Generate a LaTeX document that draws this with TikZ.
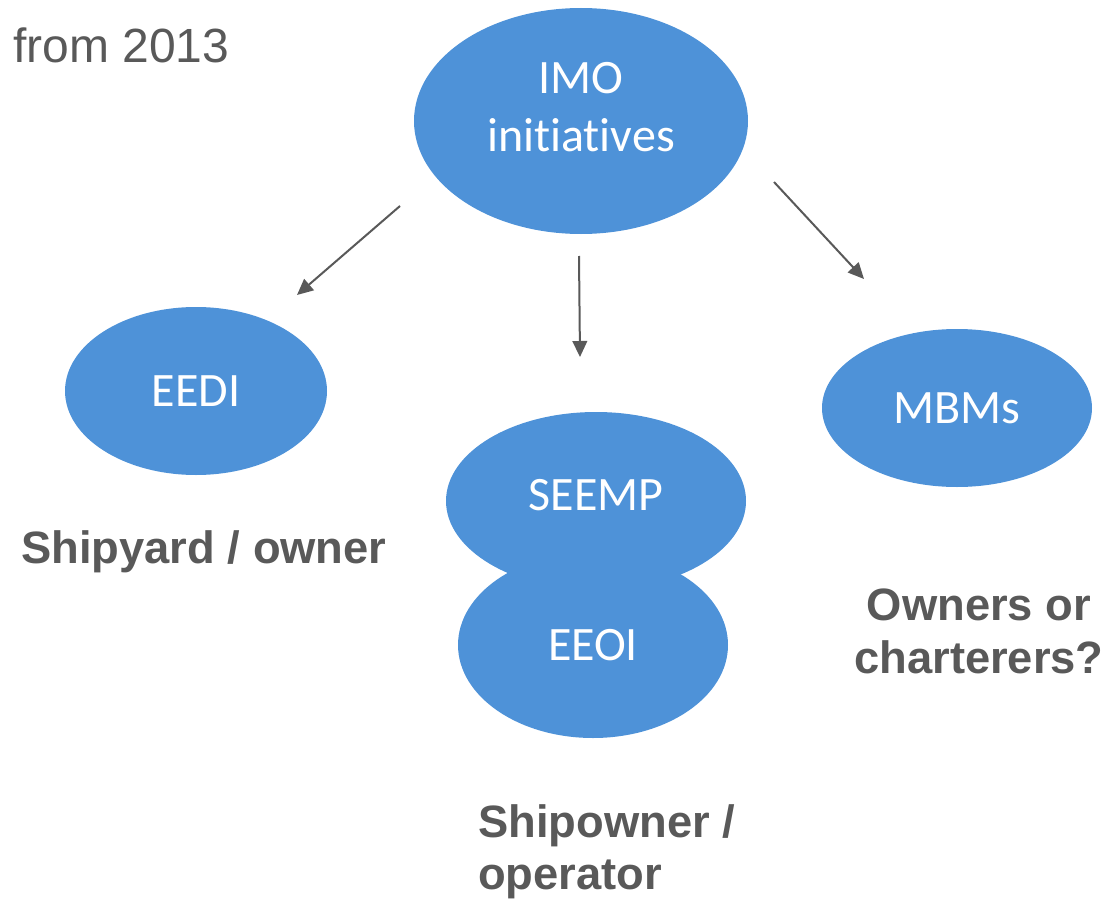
\documentclass[tikz,border=0pt]{standalone}
\usepackage{fontspec}
\setmainfont{Liberation Sans}
\newfontfamily\calib[Ligatures=NoCommon]{Carlito}
\usetikzlibrary{shapes.geometric,arrows.meta}
\newdimen\pxu \pxu=0.75pt
\definecolor{blobblue}{RGB}{78,146,216}
\definecolor{txtgray}{RGB}{89,89,89}
\definecolor{arrgray}{RGB}{89,89,89}
\tikzset{
  blob/.style={ellipse, fill=blobblue, draw=none, inner sep=0pt, text=white,
    font=\calib\fontsize{36}{43.5}\selectfont},
  conn/.style={draw=arrgray, line width=1.5pt, -{Triangle[length=12pt,width=11pt]}},
  lbl/.style={text=txtgray, inner sep=0pt, font=\bfseries\fontsize{34}{39.5}\selectfont},
}
\begin{document}
\begin{tikzpicture}[x=0.75pt,y=-0.75pt]
\useasboundingbox (0,0) rectangle (1115,899);
\node[blob, minimum width=334\pxu, minimum height=226\pxu] (imo) at (581,121) {};
\node[text=white, inner sep=0pt, align=center, font=\calib\fontsize{36}{43.5}\selectfont] (imotext) at (581,107.5) {IMO\\initiatives};
\node[blob, minimum width=262\pxu, minimum height=168\pxu] (eedi) at (196,391) {EEDI};
\node[blob, minimum width=300\pxu, minimum height=178\pxu] (seemp) at (596,501) {};
\node[blob, minimum width=270\pxu, minimum height=186\pxu] (eeoi) at (593,645) {EEOI};
\node[inner sep=0pt, text=white, font=\calib\fontsize{36}{43.5}\selectfont] (seemptext) at (596,495) {SEEMP};
\node[blob, minimum width=270\pxu, minimum height=158\pxu] (mbms) at (957,408) {MBMs};

\node[anchor=base west, text=txtgray, inner sep=0pt, font=\fontsize{36}{42}\selectfont] (from) at (13,63) {from 2013};
\node[lbl, anchor=north, align=center] (own) at (979,589) {Owners or\\charterers?};
\node[lbl, anchor=base west] (yard) at (21,563) {Shipyard / owner};
\node[lbl, anchor=north west, align=left] (ship) at (478,804) {Shipowner /\\operator};

\coordinate (a1s) at (400,206); \coordinate (a1e) at (297,295);
\coordinate (a2s) at (579,256); \coordinate (a2e) at (580,357);
\coordinate (a3s) at (774,182); \coordinate (a3e) at (864,279);
\draw[conn] (a1s) -- (a1e);
\draw[conn] (a2s) -- (a2e);
\draw[conn] (a3s) -- (a3e);
\end{tikzpicture}
\end{document}
